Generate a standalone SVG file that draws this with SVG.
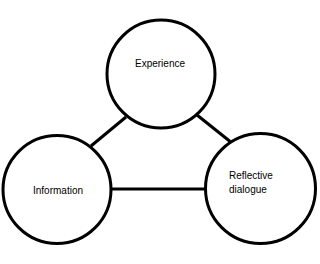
<svg xmlns="http://www.w3.org/2000/svg" width="320" height="264" viewBox="0 0 320 264">
<style>
.node{fill:#fff;stroke:#000;stroke-width:3}
.edge{stroke:#000;stroke-width:3;fill:none}
.lbl{font-family:"Liberation Sans","DejaVu Sans",sans-serif;font-size:10px;fill:#000}
</style>
<rect width="320" height="264" fill="#fff"/>
<g id="connectors">
<line class="edge" x1="126" y1="117" x2="91" y2="146"/>
<line class="edge" x1="197" y1="115" x2="232" y2="143"/>
<line class="edge" x1="112" y1="189" x2="206" y2="189"/>
</g>
<g id="experience">
<circle class="node" cx="161" cy="74" r="54"/>
<text class="lbl" x="160" y="67" text-anchor="middle">Experience</text>
</g>
<g id="information">
<circle class="node" cx="57" cy="189.5" r="54"/>
<text class="lbl" x="58" y="194" text-anchor="middle">Information</text>
</g>
<g id="reflective">
<circle class="node" cx="260.5" cy="188.5" r="55"/>
<text class="lbl" x="229" y="179">Reflective</text>
<text class="lbl" x="229" y="193">dialogue</text>
</g>
</svg>
